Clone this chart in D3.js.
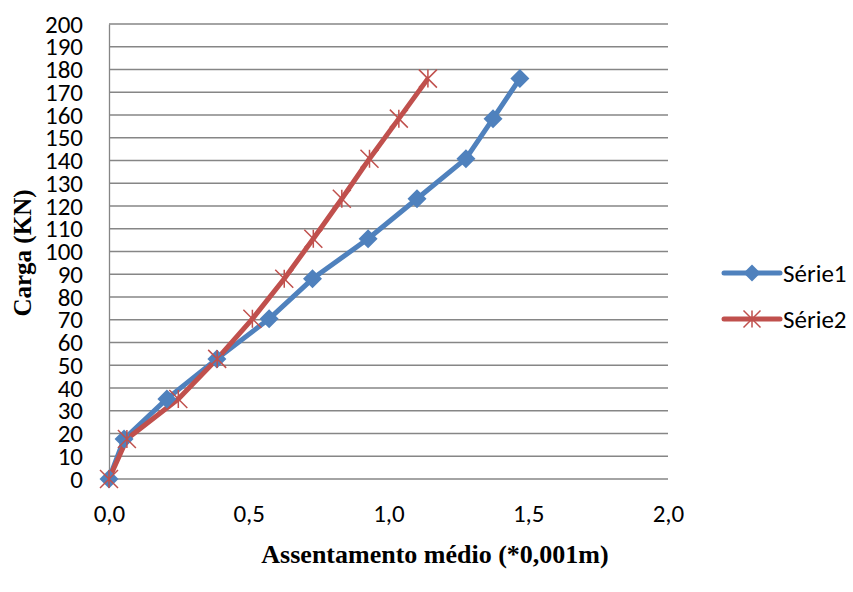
<!DOCTYPE html>
<html>
<head>
<meta charset="utf-8">
<script src="https://cdn.jsdelivr.net/npm/d3@7"></script>
<style>
  body { margin: 0; background: #fff; }
  svg { display: block; }
  .tick text { font-family: Carlito, Lato, "Open Sans", sans-serif; }
</style>
</head>
<body>
<svg id="chart" width="853" height="592"></svg>
<script>
// loads (KN) shared by both series
const loads = [0, 17.6, 35.2, 52.8, 70.4, 88, 105.6, 123.2, 140.8, 158.4, 176];
// settlement readings (*0,001 m)
const serie1 = [0, 0.054, 0.207, 0.386, 0.573, 0.728, 0.927, 1.102, 1.277, 1.374, 1.470];
const serie2 = [0, 0.064, 0.248, 0.387, 0.513, 0.627, 0.731, 0.833, 0.932, 1.037, 1.141];
const xTicks = [0, 0.5, 1, 1.5, 2];
const yTicks = d3.range(0, 201, 10);
const seriesNames = ["Série1", "Série2"];
const colors = ["#4F81BD", "#C0504D"];

const svg = d3.select("#chart");
const margin = { top: 24, right: 185, bottom: 113, left: 109 };
const width = 853 - margin.left - margin.right;
const height = 592 - margin.top - margin.bottom;

const x = d3.scaleLinear().domain([0, 2]).range([0, width]);
const y = d3.scaleLinear().domain([0, 200]).range([height, 0]);

const g = svg.append("g").attr("transform", `translate(${margin.left},${margin.top})`);

// horizontal gridlines
g.append("g")
    .selectAll("line")
    .data(yTicks)
    .join("line")
    .attr("x1", 0).attr("x2", width)
    .attr("y1", d => y(d)).attr("y2", d => y(d))
    .attr("stroke", "#868686")
    .attr("stroke-width", 1.3);

const fmt = d => d3.format(".1f")(d).replace(".", ",");

const xAxis = g.append("g")
    .attr("transform", `translate(0,${height})`)
    .call(d3.axisBottom(x).tickValues(xTicks).tickFormat(fmt).tickSize(0).tickPadding(25));
xAxis.select(".domain").remove();
xAxis.selectAll("text").attr("font-size", 25).attr("fill", "#000");

const yAxis = g.append("g")
    .call(d3.axisLeft(y).tickValues(yTicks).tickSize(0).tickPadding(26));
yAxis.select(".domain").attr("stroke", "#868686").attr("stroke-width", 1.3);
yAxis.selectAll("text").attr("font-size", 25).attr("fill", "#000");

const line = d3.line().x(d => x(d[0])).y(d => y(d[1]));
const seriesData = [serie1, serie2].map(s => s.map((v, i) => [v, loads[i]]));

seriesData.forEach((pts, si) => {
    g.append("path")
        .datum(pts)
        .attr("d", line)
        .attr("fill", "none")
        .attr("stroke", colors[si])
        .attr("stroke-width", 5)
        .attr("stroke-linejoin", "round");
});

function diamond(sel, cx, cy, r, color) {
    sel.append("path")
        .attr("d", `M${cx},${cy - r}L${cx + r},${cy}L${cx},${cy + r}L${cx - r},${cy}Z`)
        .attr("fill", color);
}
function star(sel, cx, cy, r, color) {
    sel.append("path")
        .attr("d", `M${cx - r},${cy - r}L${cx + r},${cy + r}M${cx - r},${cy + r}L${cx + r},${cy - r}M${cx},${cy - r}L${cx},${cy + r}`)
        .attr("stroke", color)
        .attr("stroke-width", 1.5)
        .attr("fill", "none");
}

seriesData[0].forEach(d => diamond(g, x(d[0]), y(d[1]), 9.5, colors[0]));
seriesData[1].forEach(d => star(g, x(d[0]), y(d[1]), 9, colors[1]));

// legend
const legend = svg.append("g");
seriesNames.forEach((name, i) => {
    const ly = 273 + i * 46;
    legend.append("line")
        .attr("x1", 724).attr("x2", 780)
        .attr("y1", ly).attr("y2", ly)
        .attr("stroke", colors[i])
        .attr("stroke-width", 5)
        .attr("stroke-linecap", "round");
    if (i === 0) diamond(legend, 752, ly, 8.5, colors[i]);
    else star(legend, 752, ly, 8.5, colors[i]);
    legend.append("text")
        .attr("x", 783).attr("y", ly)
        .attr("dy", "0.35em")
        .attr("font-family", "Carlito, Lato, 'Open Sans', sans-serif")
        .attr("font-size", 25)
        .text(name);
});

// axis titles
svg.append("text")
    .attr("transform", "translate(31,253) rotate(-90)")
    .attr("text-anchor", "middle")
    .attr("font-family", "'Liberation Serif', 'Times New Roman', serif")
    .attr("font-weight", "bold")
    .attr("font-size", 25)
    .text("Carga (KN)");

svg.append("text")
    .attr("x", 435).attr("y", 563)
    .attr("text-anchor", "middle")
    .attr("font-family", "'Liberation Serif', 'Times New Roman', serif")
    .attr("font-weight", "bold")
    .attr("font-size", 26)
    .text("Assentamento médio (*0,001m)");
</script>
</body>
</html>
